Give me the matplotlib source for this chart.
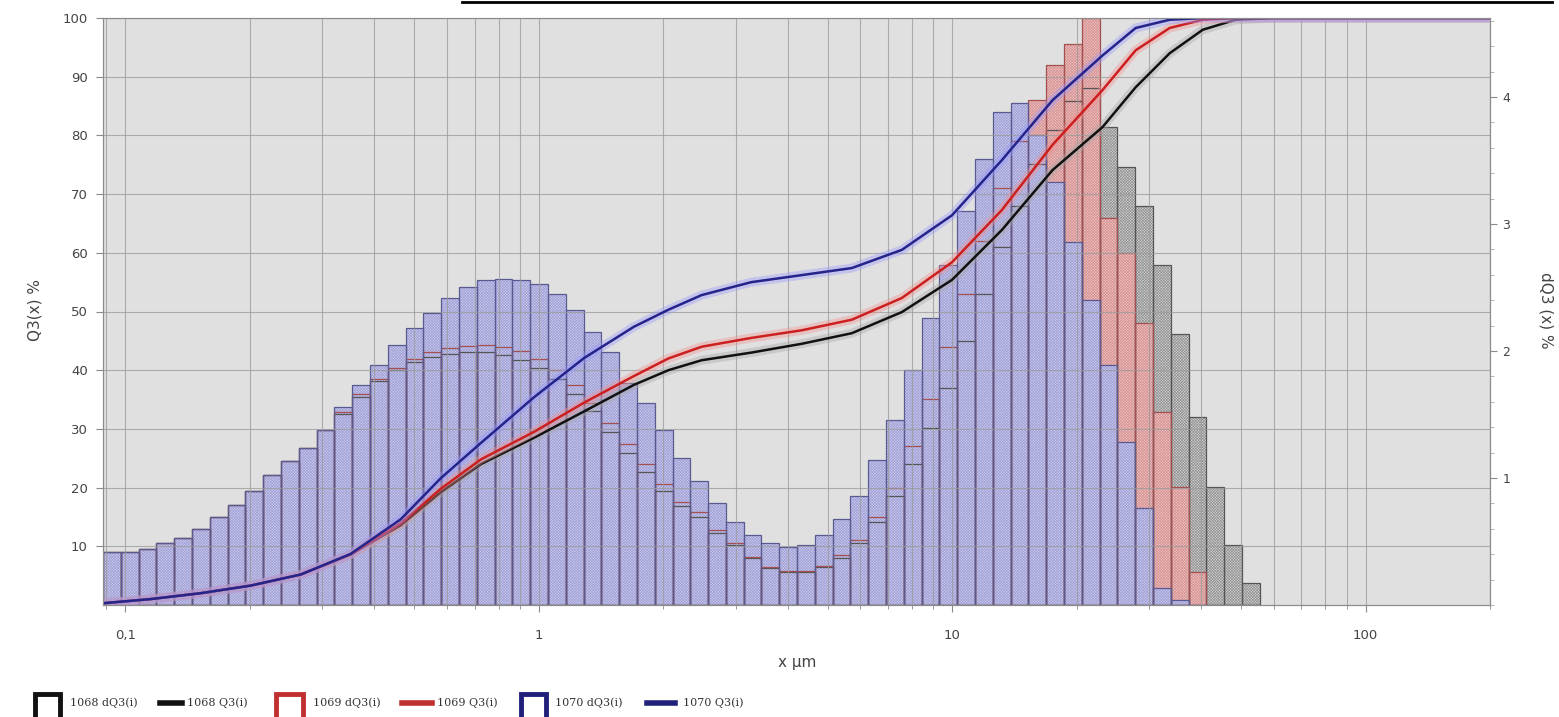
import numpy as np
import matplotlib.pyplot as plt
from matplotlib.lines import Line2D
from matplotlib.ticker import LogLocator, NullFormatter, MultipleLocator

# size classes (µm): edges of the histogram bars
size_edges = [0.0884, 0.0976, 0.1078, 0.1190, 0.1314, 0.1451, 0.1602, 0.1769, 0.1953, 0.2157,
              0.2381, 0.2630, 0.2904, 0.3206, 0.3540, 0.3910, 0.4317, 0.4767, 0.5264, 0.5813,
              0.6418, 0.7087, 0.7826, 0.8641, 0.9539, 1.0532, 1.1630, 1.2843, 1.4180, 1.5658,
              1.7289, 1.9092, 2.1081, 2.3276, 2.5703, 2.8382, 3.1334, 3.4594, 3.8194, 4.2180,
              4.6569, 5.1429, 5.6780, 6.2691, 6.9231, 7.6435, 8.4414, 9.3198, 10.292, 11.364,
              12.548, 13.857, 15.298, 16.894, 18.652, 20.594, 22.743, 25.109, 27.732, 30.620,
              33.806, 37.325, 41.210, 45.509, 50.244, 55.486]

# dQ3 per class (%), right axis
dq3_1068 = [0.42, 0.42, 0.44, 0.49, 0.53, 0.60, 0.69, 0.79, 0.90, 1.02,
            1.13, 1.24, 1.38, 1.50, 1.64, 1.76, 1.85, 1.91, 1.95, 1.98,
            1.99, 1.99, 1.97, 1.93, 1.87, 1.78, 1.66, 1.53, 1.36, 1.20,
            1.05, 0.90, 0.78, 0.69, 0.57, 0.47, 0.37, 0.29, 0.26, 0.26,
            0.30, 0.37, 0.49, 0.65, 0.86, 1.11, 1.39, 1.71, 2.08, 2.45,
            2.82, 3.14, 3.47, 3.74, 3.97, 4.07, 3.76, 3.45, 3.14, 2.68,
            2.13, 1.48, 0.93, 0.47, 0.17]
dq3_1069 = [0.42, 0.42, 0.44, 0.49, 0.53, 0.60, 0.69, 0.79, 0.90, 1.02,
            1.13, 1.24, 1.38, 1.52, 1.66, 1.78, 1.87, 1.94, 1.99, 2.02,
            2.04, 2.05, 2.03, 2.00, 1.94, 1.85, 1.73, 1.59, 1.43, 1.27,
            1.11, 0.95, 0.81, 0.73, 0.59, 0.49, 0.38, 0.30, 0.27, 0.27,
            0.31, 0.39, 0.51, 0.69, 0.92, 1.25, 1.62, 2.03, 2.45, 2.87,
            3.28, 3.65, 3.98, 4.25, 4.42, 4.62, 3.05, 2.77, 2.22, 1.52,
            0.93, 0.26, 0.0, 0.0, 0.0]
dq3_1070 = [0.42, 0.42, 0.44, 0.49, 0.53, 0.60, 0.69, 0.79, 0.90, 1.02,
            1.13, 1.24, 1.38, 1.56, 1.73, 1.89, 2.05, 2.18, 2.30, 2.42,
            2.50, 2.56, 2.57, 2.56, 2.53, 2.45, 2.32, 2.15, 1.99, 1.75,
            1.59, 1.38, 1.16, 0.98, 0.80, 0.65, 0.55, 0.49, 0.46, 0.47,
            0.55, 0.68, 0.86, 1.14, 1.46, 1.85, 2.26, 2.68, 3.10, 3.51,
            3.88, 3.95, 3.70, 3.33, 2.86, 2.40, 1.89, 1.28, 0.76, 0.13,
            0.04, 0.0, 0.0, 0.0, 0.0]

# cumulative curves Q3 (%), left axis
q3_x = [0.0884, 0.115, 0.152, 0.201, 0.266, 0.351, 0.464, 0.580, 0.725, 0.975,
        1.29, 1.70, 2.06, 2.48, 3.27, 4.33, 5.72, 7.56, 10.0, 13.2,
        17.5, 23.1, 27.8, 33.6, 40.4, 48.5, 59.7, 200]
q3_1068 = [0.3, 1.0, 2.0, 3.3, 5.2, 8.6, 13.6, 19.2, 24.0, 28.5,
           33.0, 37.5, 40.0, 41.7, 43.0, 44.5, 46.3, 49.9, 55.4, 63.9,
           74.1, 81.4, 88.2, 94.0, 98.0, 99.7, 100, 100]
q3_1069 = [0.3, 1.0, 2.0, 3.3, 5.2, 8.6, 13.9, 19.8, 24.8, 29.5,
           34.5, 39.0, 42.0, 44.0, 45.5, 46.8, 48.6, 52.3, 58.4, 67.3,
           78.4, 87.7, 94.5, 98.3, 99.7, 100, 100, 100]
q3_1070 = [0.3, 1.0, 2.0, 3.3, 5.2, 8.7, 14.6, 21.6, 27.6, 35.4,
           42.1, 47.4, 50.3, 52.8, 55.0, 56.2, 57.4, 60.5, 66.4, 75.8,
           86.0, 93.6, 98.3, 99.7, 100, 100, 100, 100]

labels = ["1068", "1069", "1070"]

W, H = 1559, 717


def fx(px):
    return px / W


def fy(py):
    return 1 - py / H


plt.rcParams['hatch.linewidth'] = 0.45

fig = plt.figure(figsize=(W / 100, H / 100), dpi=100)
ax = fig.add_axes([fx(103), fy(605), fx(1490) - fx(103), fy(18) - fy(605)])
ax2 = ax.twinx()
ax.set_zorder(2)
ax2.set_zorder(1)
ax.patch.set_visible(False)
ax2.patch.set_visible(True)
ax2.patch.set_facecolor('#e0e0e0')

ax.set_xscale('log')
ax.set_xlim(0.0884, 200)
ax.set_ylim(0, 100)
ax2.set_ylim(0, 4.622)

edges = np.array(size_edges)
widths = np.diff(edges)

# hatched fills first, then all outlines on top
fills = [(dq3_1068, '#d4d4d4', '#919191'),
         (dq3_1069, '#f4c0c0', '#d29494'),
         (dq3_1070, '#cbcbf0', '#a0a0d4')]
for vals, face, hcol in fills:
    ax2.bar(edges[:-1], vals, width=widths, align='edge', color=face,
            edgecolor=hcol, linewidth=0, hatch='xxxxxxxxxxxx')

outlines = [(dq3_1068, '#555555'), (dq3_1069, '#a45050'), (dq3_1070, '#5a5a92')]
for vals, col in outlines:
    ax2.bar(edges[:-1], vals, width=widths, align='edge', fill=False,
            edgecolor=col, linewidth=0.9)

curves = [(q3_1068, '#a8a8a8', '#111111'),
          (q3_1069, '#f29090', '#cc2020'),
          (q3_1070, '#9898ff', '#24248a')]
for vals, halo, col in curves:
    ax.plot(q3_x, vals, color=halo, lw=6.5, alpha=0.4, solid_capstyle='butt')
    ax.plot(q3_x, vals, color=col, lw=1.8)

# grid
ax.set_axisbelow(True)
ax.grid(True, which='major', axis='both', color='#9a9a9a', lw=0.8, alpha=0.75)
ax.grid(True, which='minor', axis='x', color='#9a9a9a', lw=0.8, alpha=0.75)

ax.set_xticks([0.1, 1, 10, 100])
ax.set_xticklabels(['0,1', '1', '10', '100'])
ax.xaxis.set_minor_locator(LogLocator(base=10, subs=np.arange(2, 10)))
ax.xaxis.set_minor_formatter(NullFormatter())
ax.set_yticks(range(10, 101, 10))
ax2.set_yticks([1, 2, 3, 4])
ax2.yaxis.set_minor_locator(MultipleLocator(0.2))

ax.tick_params(axis='y', which='major', length=5, color='#8a8a8a',
               labelcolor='#444444', labelsize=9.5, pad=6)
ax.tick_params(axis='x', which='major', length=5, color='#8a8a8a',
               labelcolor='#444444', labelsize=9.5, pad=12)
ax.tick_params(axis='x', which='minor', length=3, color='#8a8a8a')
ax2.tick_params(axis='y', which='major', length=5, color='#8a8a8a',
                labelcolor='#444444', labelsize=9, pad=4)
ax2.tick_params(axis='y', which='minor', length=3, color='#aaaaaa')

for a in (ax, ax2):
    for sp in a.spines.values():
        sp.set_color('#8c8c8c')

fig.text(fx(35), fy(310), 'Q3(x) %', rotation=90, ha='center', va='center',
         fontsize=11, color='#444444')
fig.text(fx(1546), fy(310), 'dQ3 (x) %', rotation=270, ha='center', va='center',
         fontsize=11, color='#444444')
fig.text(fx(797), fy(662), 'x µm', ha='center', va='center',
         fontsize=11, color='#444444')

# line across the top edge of the screenshot
fig.add_artist(Line2D([fx(462), fx(1552)], [fy(1.5), fy(1.5)], color='black', lw=2))

# legend along the bottom
leg_cols = ['#111111', '#111111', '#c03030', '#c03030', '#20207a', '#20207a']
leg_text = [labels[0] + ' dQ3(i)', labels[0] + ' Q3(i)',
            labels[1] + ' dQ3(i)', labels[1] + ' Q3(i)',
            labels[2] + ' dQ3(i)', labels[2] + ' Q3(i)']
leg_glyph_x = [(35, 60), (160, 182), (276, 303), (402, 432), (521, 546), (647, 675)]
leg_text_x = [70, 187, 313, 437, 555, 683]
for i in range(6):
    x0, x1 = leg_glyph_x[i]
    if i % 2 == 0:
        fig.add_artist(Line2D([fx(x0), fx(x0), fx(x1), fx(x1)],
                              [fy(720), fy(694), fy(694), fy(720)],
                              color=leg_cols[i], lw=3.5, solid_joinstyle='miter'))
    else:
        fig.add_artist(Line2D([fx(x0), fx(x1)], [fy(703), fy(703)],
                              color=leg_cols[i], lw=4))
    fig.text(fx(leg_text_x[i]), fy(703), leg_text[i], ha='left', va='center',
             fontsize=8, family='DejaVu Serif', color='#333333')

fig.savefig('out.png', dpi=100)
